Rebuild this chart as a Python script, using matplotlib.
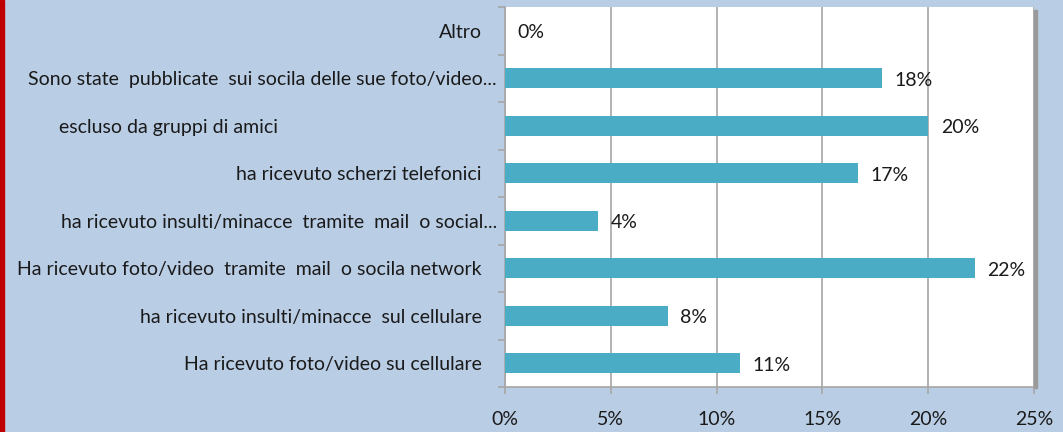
import matplotlib
matplotlib.use("Agg")
import matplotlib.pyplot as plt
from matplotlib.patches import Rectangle

categories = [
    "Ha ricevuto foto/video su cellulare",
    "ha ricevuto insulti/minacce  sul cellulare",
    "Ha ricevuto foto/video  tramite  mail  o socila network",
    "ha ricevuto insulti/minacce  tramite  mail  o social...",
    "ha ricevuto scherzi telefonici",
    "escluso da gruppi di amici",
    "Sono state  pubblicate  sui socila delle sue foto/video...",
    "Altro",
]
values = [0.111, 0.077, 0.222, 0.044, 0.167, 0.200, 0.178, 0.0]
value_labels = ["11%", "8%", "22%", "4%", "17%", "20%", "18%", "0%"]
x_ticks = [0, 0.05, 0.10, 0.15, 0.20, 0.25]
x_tick_labels = ["0%", "5%", "10%", "15%", "20%", "25%"]

# label right-edge positions in figure pixels (style)
label_right_px = [482, 482, 482, 497, 482, 278, 497, 482]

W, H = 1063, 432
BG = "#B9CDE5"
BAR = "#4BACC6"
TXT = "#1A1A1A"
GRID = "#A6A6A6"
FS = 14

plt.rcParams['font.family'] = ['Lato', 'DejaVu Sans']
fig = plt.figure(figsize=(W / 100, H / 100), dpi=100)
fig.patch.set_facecolor(BG)

ax_l, ax_r, ax_t, ax_b = 505, 1034, 7, 387
ax = fig.add_axes([ax_l / W, 1 - ax_b / H, (ax_r - ax_l) / W, (ax_b - ax_t) / H])
ax.set_facecolor("white")

# shadow on right edge
fig.patches.append(Rectangle(((ax_r) / W, 1 - (ax_b + 1) / H), 3 / W, (ax_b - ax_t - 2) / H,
                             transform=fig.transFigure, color="#9A9A9A", zorder=0))
# red stripe at left edge
fig.patches.append(Rectangle((0, 0), 4 / W, 1, transform=fig.transFigure, color="#C00000", zorder=0))

y = list(range(len(categories)))
ax.barh(y, values, height=0.42, color=BAR, zorder=3)
ax.set_xlim(0, 0.25)
ax.set_ylim(-0.5, len(categories) - 0.5)

ax.set_xticks(x_ticks)
ax.set_xticklabels(x_tick_labels, fontsize=FS, color=TXT)
ax.grid(axis="x", color=GRID, linewidth=1.2, zorder=1)
ax.tick_params(axis="x", length=5, width=1.2, color=GRID, pad=12)

ax.set_yticks([i - 0.5 for i in range(len(categories) + 1)])
ax.set_yticklabels([])
ax.tick_params(axis="y", length=5, width=1.2, color=GRID)

for s in ["top", "right"]:
    ax.spines[s].set_visible(False)
ax.spines["left"].set_color(GRID)
ax.spines["bottom"].set_color(GRID)
ax.spines["left"].set_linewidth(1.2)
ax.spines["bottom"].set_linewidth(1.2)

for i, (v, lab) in enumerate(zip(values, value_labels)):
    ax.annotate(lab, (v, i), xytext=(9, -1.5), textcoords="offset points",
                ha="left", va="center", fontsize=FS, color=TXT)

for i, cat in enumerate(categories):
    yc = ax.transData.transform((0, i))[1]
    fig.text(label_right_px[i] / W, (yc - 1.5) / H, cat, ha="right", va="center",
             fontsize=FS, color=TXT)

fig.savefig("out.png", dpi=100, facecolor=BG)
